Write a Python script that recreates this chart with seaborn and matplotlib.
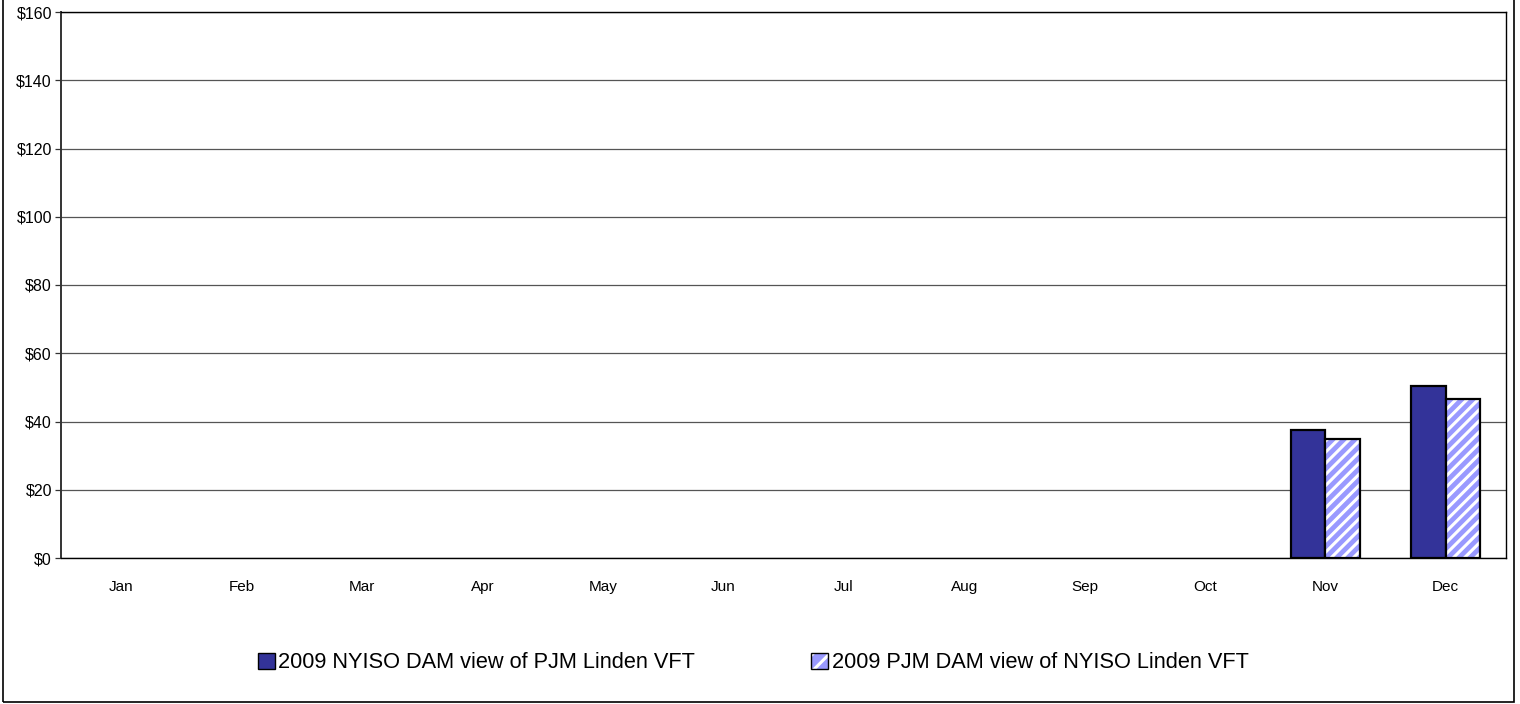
import numpy as np
import pandas as pd
import matplotlib
matplotlib.use("Agg")
import matplotlib.pyplot as plt
import seaborn as sns
from matplotlib.patches import Rectangle, Patch
from matplotlib.legend_handler import HandlerTuple

months = ["Jan", "Feb", "Mar", "Apr", "May", "Jun", "Jul", "Aug", "Sep", "Oct", "Nov", "Dec"]
series_names = ["2009 NYISO DAM view of PJM Linden VFT", "2009 PJM DAM view of NYISO Linden VFT"]
nyiso_view = [np.nan] * 10 + [37.6, 50.5]
pjm_view = [np.nan] * 10 + [34.9, 46.6]
y_ticks = [0, 20, 40, 60, 80, 100, 120, 140, 160]
y_labels = ["$0", "$20", "$40", "$60", "$80", "$100", "$120", "$140", "$160"]

sns.set_theme(style="white")
plt.rcParams["font.family"] = ["Liberation Sans", "DejaVu Sans"]
plt.rcParams["hatch.linewidth"] = 2.2

df = pd.DataFrame({
    "Month": months * 2,
    "Series": [series_names[0]] * 12 + [series_names[1]] * 12,
    "Value": nyiso_view + pjm_view,
})

dark = "#333399"
light = "#9999FF"

fig = plt.figure(figsize=(15.2, 7.04), dpi=100)
ax = fig.add_axes([61 / 1520, 1 - 558 / 704, (1506 - 61) / 1520, (558 - 12) / 704])

sns.barplot(data=df, x="Month", y="Value", hue="Series", order=months,
            hue_order=series_names, palette=[dark, light], width=0.57,
            gap=0, ax=ax, legend=False, saturation=1)

for c_idx, cont in enumerate(ax.containers):
    for p in cont.patches:
        h = p.get_height()
        if not np.isfinite(h):
            continue
        if c_idx == 1:
            p.set_facecolor(light)
            p.set_edgecolor("white")
            p.set_hatch("///")
            p.set_linewidth(0)
            outline = Rectangle(p.get_xy(), p.get_width(), h, fill=False,
                                edgecolor="black", linewidth=1.6, zorder=p.get_zorder() + 0.1)
            ax.add_patch(outline)
        else:
            p.set_edgecolor("black")
            p.set_linewidth(1.6)

ax.set_ylim(0, 160)
ax.set_xlim(-0.5, 11.5)
ax.set_yticks(y_ticks)
ax.set_yticklabels(y_labels)
ax.yaxis.grid(True, color="#555555", linewidth=0.9)
ax.set_axisbelow(True)
ax.set_xlabel("")
ax.set_ylabel("")

ax.set_xticks(range(12))
ax.set_xticklabels(months)
ax.set_xticks(np.arange(-0.5, 12, 1), minor=True)
ax.tick_params(axis="x", which="major", length=0, pad=16, labelsize=11, labelcolor="black")
ax.tick_params(axis="x", which="minor", length=4, width=0.9, color="#333333", direction="out")
ax.tick_params(axis="y", which="major", length=4.5, width=0.9, color="#333333",
               direction="out", labelsize=11.5, pad=2, left=True, labelcolor="black")

for side in ["left", "bottom", "top", "right"]:
    ax.spines[side].set_visible(True)
    ax.spines[side].set_color("black")
    ax.spines[side].set_linewidth(1.0)
ax.spines["left"].set_color("#333333")
ax.spines["left"].set_linewidth(1.4)

h1 = Patch(facecolor=dark, edgecolor="black", linewidth=1)
h2_fill = Patch(facecolor=light, edgecolor="white", hatch="//", linewidth=0)
h2_edge = Patch(facecolor="none", edgecolor="black", linewidth=1)
leg = fig.legend([h1, (h2_fill, h2_edge)], series_names, loc="center",
                 bbox_to_anchor=(753 / 1520, 1 - 663 / 704),
                 handler_map={tuple: HandlerTuple(ndivide=1, pad=0)},
                 ncol=2, frameon=False, fontsize=15.7, handlelength=0.8, handleheight=0.8,
                 handletextpad=0.15, columnspacing=5.3)
for t in leg.get_texts():
    t.set_color("black")

fig.patches.append(Rectangle((3 / 1520, 2 / 704), (1514 - 3) / 1520, 1.05,
                             transform=fig.transFigure, fill=False, edgecolor="black",
                             linewidth=1.2, clip_on=False))

fig.savefig("out.png", dpi=100)
